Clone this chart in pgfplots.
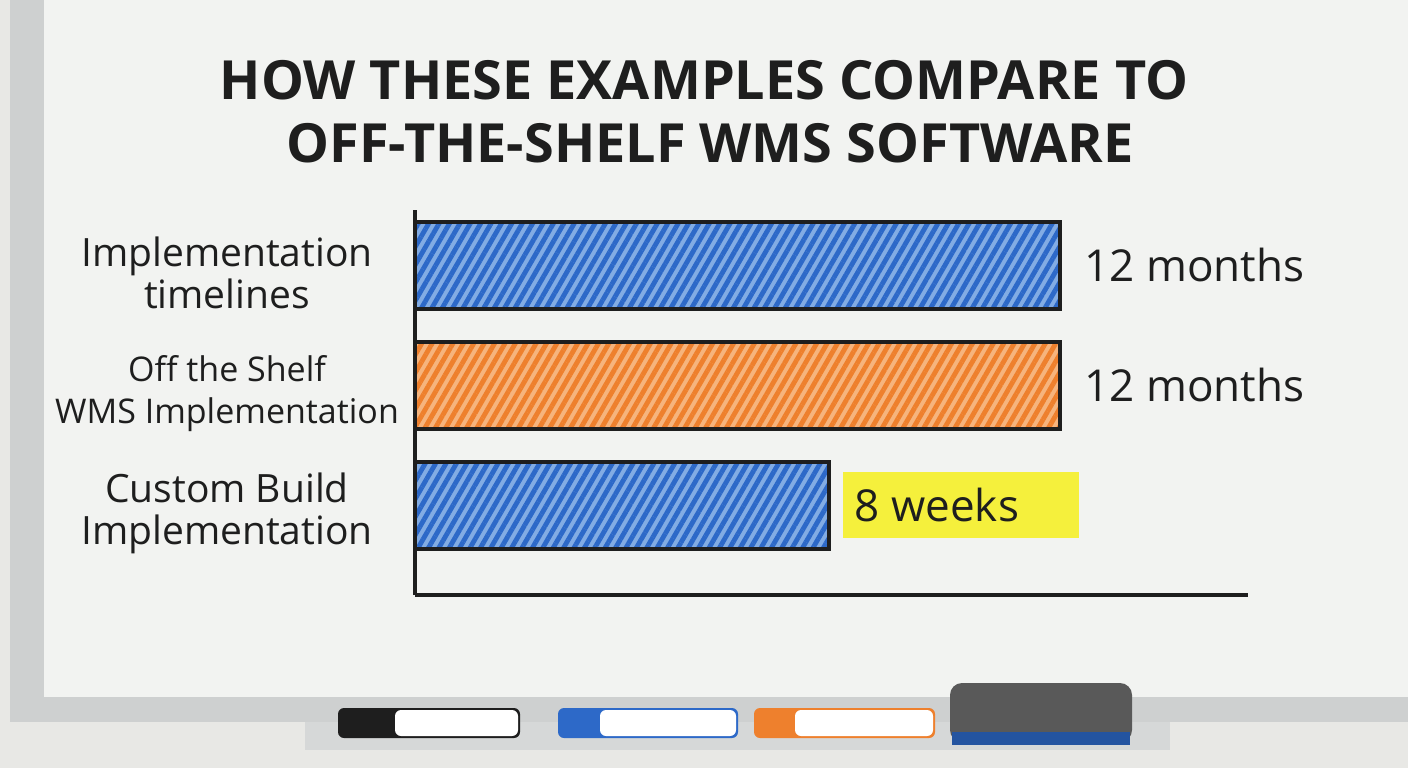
\documentclass[border=0pt]{standalone}
\usepackage{pgfplots}
\pgfplotsset{compat=1.18}
\usepackage{fontspec}
\setmainfont{Open Sans}
\usetikzlibrary{patterns.meta}

\definecolor{wall}{RGB}{232,232,229}
\definecolor{board}{RGB}{242,243,241}
\definecolor{frame}{RGB}{206,208,208}
\definecolor{tray}{RGB}{214,216,216}
\definecolor{ink}{RGB}{30,30,30}
\definecolor{mblue}{RGB}{45,105,200}
\definecolor{mbluelt}{RGB}{130,172,228}
\definecolor{morange}{RGB}{238,128,45}
\definecolor{morangelt}{RGB}{246,180,125}
\definecolor{hilite}{RGB}{245,240,60}

\begin{document}
\begin{tikzpicture}
% whiteboard, 1 unit = 1 reference pixel
\begin{scope}[x=0.5pt,y=-0.5pt,yshift=384pt]
  \fill[wall] (0,0) rectangle (1408,768);
  \fill[board] (40,0) rectangle (1408,700);
  \fill[frame] (10,0) rectangle (44,722);
  \fill[frame] (10,697) rectangle (1408,722);
  \fill[tray] (305,722) rectangle (1170,750);
  % markers and eraser
  \fill[ink, rounded corners=3pt] (338,708) rectangle (520,738);
  \fill[white, rounded corners=3pt] (395,710) rectangle (518,736);
  \fill[mblue, rounded corners=3pt] (558,708) rectangle (738,738);
  \fill[white, rounded corners=3pt] (600,710) rectangle (736,736);
  \fill[morange, rounded corners=3pt] (754,708) rectangle (935,738);
  \fill[white, rounded corners=3pt] (795,710) rectangle (933,736);
  \fill[gray!70!black, rounded corners=6pt] (950,683) rectangle (1132,742);
  \fill[mblue!80!black] (952,732) rectangle (1130,745);
  % title
  \node[font=\bfseries\fontsize{27}{32}\selectfont, text=ink] at (704,80) {HOW THESE EXAMPLES COMPARE TO};
  \node[font=\bfseries\fontsize{27}{32}\selectfont, text=ink] at (710,143) {OFF-THE-SHELF WMS SOFTWARE};
\end{scope}

\begin{axis}[
  at={(207.5pt,86.5pt)}, anchor=south west,
  scale only axis, width=416.5pt, height=192.5pt,
  xbar, bar width=43.5pt, bar shift=0pt,
  xmin=0, xmax=15.5, ymin=0.25, ymax=3.46,
  axis x line=bottom, axis y line=left,
  axis line style={-, line width=2pt, draw=ink},
  xtick=\empty, ytick={1,2,3},
  yticklabels={{Custom Build\\Implementation},
               {\fontsize{17}{21}\selectfont Off the Shelf\\\fontsize{17}{21}\selectfont WMS Implementation},
               {Implementation\\timelines}},
  major tick length=0pt,
  yticklabel style={align=center, anchor=center, text=ink,
    font=\fontsize{19.5}{21}\selectfont, xshift=-94pt, yshift=-4pt},
  point meta=explicit symbolic,
  nodes near coords,
  nodes near coords style={anchor=west, font=\fontsize{22}{26}\selectfont, xshift=8pt, text=ink},
  clip=false,
]
\addplot[draw=ink, line width=2pt, preaction={fill=mbluelt},
  pattern={Lines[angle=60,distance=4.5pt,line width=2.4pt]}, pattern color=mblue]
  coordinates {(12,3) [12 months]};
\addplot[draw=ink, line width=2pt, preaction={fill=morangelt},
  pattern={Lines[angle=60,distance=4.5pt,line width=2.4pt]}, pattern color=morange]
  coordinates {(12,2) [12 months]};
\addplot[draw=ink, line width=2pt, preaction={fill=mbluelt},
  pattern={Lines[angle=60,distance=4.5pt,line width=2.4pt]}, pattern color=mblue,
  nodes near coords={\pgfplotspointmeta\hspace*{24pt}},
  nodes near coords style={fill=hilite, inner xsep=6pt, inner ysep=8pt, xshift=-2pt}]
  coordinates {(7.7,1) [8 weeks]};
\end{axis}
\end{tikzpicture}
\end{document}
